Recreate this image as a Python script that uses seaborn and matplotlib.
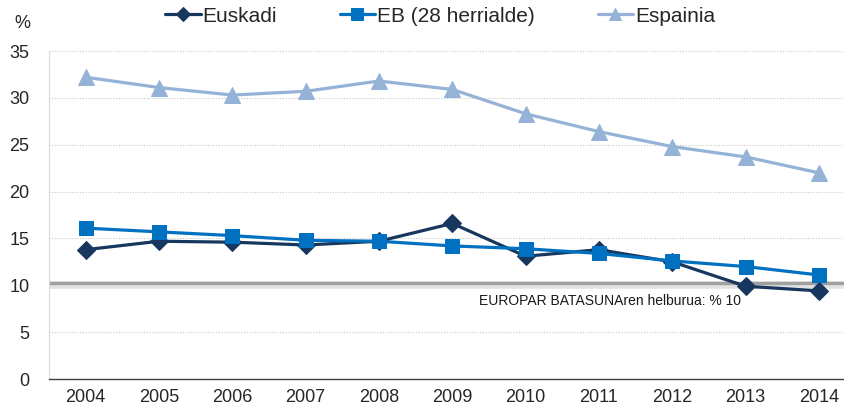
import numpy as np
import pandas as pd
import matplotlib
matplotlib.use("Agg")
import matplotlib.pyplot as plt
import seaborn as sns
from matplotlib.ticker import FixedLocator

years = [2004, 2005, 2006, 2007, 2008, 2009, 2010, 2011, 2012, 2013, 2014]
euskadi = [13.8, 14.7, 14.6, 14.3, 14.7, 16.6, 13.1, 13.8, 12.5, 9.9, 9.4]
eb28 = [16.1, 15.7, 15.3, 14.8, 14.7, 14.2, 13.9, 13.4, 12.6, 12.0, 11.1]
espainia = [32.2, 31.1, 30.3, 30.7, 31.8, 30.9, 28.3, 26.4, 24.8, 23.7, 22.0]
series_names = ["Euskadi", "EB (28 herrialde)", "Espainia"]
target_value = 10.2
target_label = "EUROPAR BATASUNAren helburua: % 10"
yticks = [0, 5, 10, 15, 20, 25, 30, 35]

sns.set_style("white")
plt.rcParams['font.family'] = ['Liberation Sans', 'DejaVu Sans']

fig = plt.figure(figsize=(8.45, 4.05), dpi=100)
ax = fig.add_axes([49/845, 26/405, 806.6/845, 328/405])

# grid
for v in yticks[1:]:
    if v != 10:
        ax.axhline(v, color='#C8C8C8', lw=0.8, ls=(0, (1, 1.5)), zorder=0)

# target line
ax.axhline(target_value - 0.15, color='#E3E3E3', lw=5.5, zorder=1)
ax.axhline(target_value, color='#A0A0A0', lw=2.4, zorder=1)
ax.text(2011.15, target_value - 1.15, target_label, fontsize=10, color='#1a1a1a',
        ha='center', va='top')

colors = ['#17375E', '#0070C0', '#95B3D7']
markers = ['D', 's', '^']
msizes = [9, 10, 11]
data = [euskadi, eb28, espainia]
for name, vals, c, m, ms in zip(series_names, data, colors, markers, msizes):
    df = pd.DataFrame({'year': years, 'value': vals})
    sns.lineplot(data=df, x='year', y='value', ax=ax, color=c, lw=2.3,
                 marker=m, markersize=ms, markeredgecolor=c, label=name, zorder=3)

ax.set_xlim(2003.5, 2014.5)
ax.set_ylim(0, 35)
ax.set_xticks(years)
ax.set_xticklabels([str(y) for y in years], fontsize=13)
ax.xaxis.set_minor_locator(FixedLocator([y + 0.5 for y in [2003] + years]))
ax.tick_params(axis='x', which='major', length=0, pad=7)
ax.tick_params(axis='x', which='minor', length=5, width=1, color='#404040', direction='out')
ax.set_yticks(yticks)
ax.set_yticklabels([str(v) for v in yticks], fontsize=13)
ax.tick_params(axis='y', length=0, pad=14)
ax.set_xlabel('')
ax.set_ylabel('')
for s in ['top', 'right']:
    ax.spines[s].set_visible(False)
ax.spines['left'].set_color('#D9D9D9')
ax.spines['bottom'].set_color('#404040')
ax.spines['bottom'].set_linewidth(1)

fig.text(22/845, 1 - 24/405, '%', fontsize=13, ha='center', va='center')

leg = ax.legend(loc='center left', bbox_to_anchor=((167 - 49 - 8) / 806.6, 1 + 35/328),
                ncol=3, frameon=False, fontsize=15, handlelength=1.7, handletextpad=0.1,
                columnspacing=3.0, markerscale=0.8, borderaxespad=0, borderpad=0.3)

fig.savefig('out.png', dpi=100)
